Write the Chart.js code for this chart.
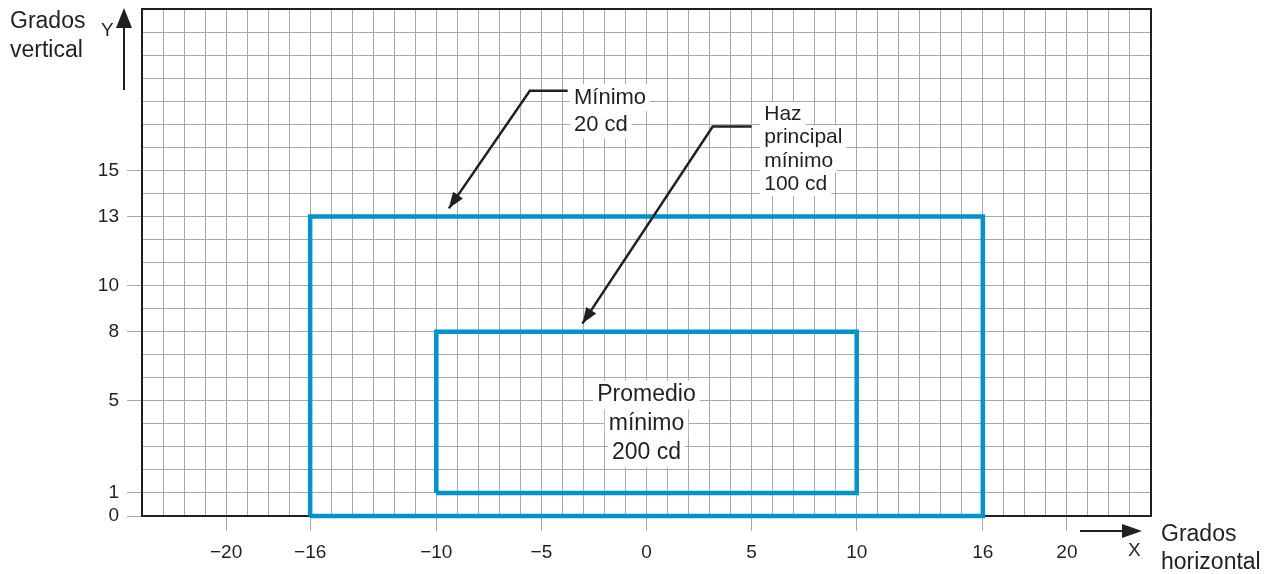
<!DOCTYPE html>
<html>
<head>
<meta charset="utf-8">
<script src="https://cdn.jsdelivr.net/npm/chart.js@4.4.1/dist/chart.umd.min.js"></script>
<style>
  html, body { margin: 0; padding: 0; background: #fff; }
  #wrap { width: 1275px; height: 574px; }
</style>
</head>
<body>
<div id="wrap"><canvas id="chart"></canvas></div>
<script>
// ejes
const xRange = [-24, 24];
const yRange = [0, 22];
const xTickLabels = [-20, -16, -10, -5, 0, 5, 10, 16, 20];
const yTickLabels = [0, 1, 5, 8, 10, 13, 15];

// zonas (rectángulos)
const outerX = [-16, 16, 16, -16, -16];
const outerY = [0, 0, 13, 13, 0];
const innerX = [-10, 10, 10, -10, -10];
const innerY = [1, 1, 8, 8, 1];

// notas
const noteMinimo = ["Mínimo", "20 cd"];
const noteHaz = ["Haz", "principal", "mínimo", "100 cd"];
const notePromedio = ["Promedio", "mínimo", "200 cd"];

const FONT = "'Liberation Sans Narrow', 'Liberation Sans', Arial, sans-serif";
const BLUE = "#0093d2";
const GRID = "#a9a9a9";
const INK = "#231f20";

const minus = (v) => (v < 0 ? "\u2212" + Math.abs(v) : String(v));
const range = (a, b) => Array.from({ length: b - a + 1 }, (_, i) => a + i);

// bordes, notas, flechas y títulos
const decor = {
  id: "decor",
  beforeDatasetsDraw(chart) {
    const { ctx, chartArea: a } = chart;
    ctx.save();
    ctx.strokeStyle = INK;
    ctx.lineWidth = 2;
    ctx.strokeRect(a.left, a.top, a.right - a.left, a.bottom - a.top);
    ctx.restore();
  },
  afterDatasetsDraw(chart) {
    const { ctx, chartArea: a } = chart;
    const xs = chart.scales.x, ys = chart.scales.y;
    const px = (v) => xs.getPixelForValue(v);
    const py = (v) => ys.getPixelForValue(v);

    function block(lines, x, y, size, gap, align) {
      ctx.font = size + "px " + FONT;
      ctx.textBaseline = "middle";
      ctx.textAlign = align;
      lines.forEach((t, i) => {
        const w = ctx.measureText(t).width;
        const cy = py(y) + i * gap;
        const lx = align === "center" ? px(x) - w / 2 : px(x);
        ctx.fillStyle = "#fff";
        ctx.fillRect(lx - 4, cy - gap / 2, w + 8, gap);
      });
      ctx.fillStyle = INK;
      lines.forEach((t, i) => ctx.fillText(t, px(x), py(y) + i * gap));
    }

    function head(x1, y1, x2, y2, len, wid) {
      const ang = Math.atan2(y2 - y1, x2 - x1);
      ctx.beginPath();
      ctx.moveTo(x2, y2);
      ctx.lineTo(x2 - len * Math.cos(ang) + wid * Math.sin(ang), y2 - len * Math.sin(ang) - wid * Math.cos(ang));
      ctx.lineTo(x2 - len * Math.cos(ang) - wid * Math.sin(ang), y2 - len * Math.sin(ang) + wid * Math.cos(ang));
      ctx.closePath();
      ctx.fill();
    }

    function leader(pts) {
      const p = pts.map(([x, y]) => [px(x), py(y)]);
      ctx.beginPath();
      ctx.moveTo(p[0][0], p[0][1]);
      for (let i = 1; i < p.length; i++) ctx.lineTo(p[i][0], p[i][1]);
      ctx.stroke();
      const n = p.length;
      head(p[n - 2][0], p[n - 2][1], p[n - 1][0], p[n - 1][1], 16, 6);
    }

    ctx.save();
    block(noteMinimo, -3.45, 18.15, 22, 27, "left");
    block(noteHaz, 5.6, 17.45, 21, 23.5, "left");
    block(notePromedio, 0, 5.25, 23, 29, "center");

    ctx.strokeStyle = INK;
    ctx.fillStyle = INK;
    ctx.lineWidth = 2.5;
    leader([[-3.75, 18.45], [-5.55, 18.45], [-9.4, 13.35]]);
    leader([[5.0, 16.9], [3.15, 16.9], [-3.05, 8.35]]);

    // flecha Y
    ctx.lineWidth = 2;
    const ax = a.left - 18;
    ctx.beginPath();
    ctx.moveTo(ax, a.top + 81);
    ctx.lineTo(ax, a.top + 12);
    ctx.stroke();
    head(ax, a.top + 81, ax, a.top - 1, 20, 8);

    // flecha X
    const ay = a.bottom + 15;
    ctx.beginPath();
    ctx.moveTo(a.right - 71, ay);
    ctx.lineTo(a.right - 20, ay);
    ctx.stroke();
    head(a.right - 71, ay, a.right - 9, ay, 20, 7);

    // títulos de ejes
    ctx.fillStyle = INK;
    ctx.textBaseline = "middle";
    ctx.textAlign = "left";
    ctx.font = "23px " + FONT;
    ctx.fillText("Grados", 10, 22);
    ctx.fillText("vertical", 10, 51);
    ctx.fillText("Grados", a.right + 10, 535);
    ctx.fillText("horizontal", a.right + 10, 563);
    ctx.font = "19px " + FONT;
    ctx.fillText("Y", 101, 31);
    ctx.fillText("X", a.right - 23, 551);
    ctx.restore();
  }
};

new Chart(document.getElementById("chart"), {
  type: "scatter",
  data: {
    datasets: [
      {
        data: outerX.map((x, i) => ({ x, y: outerY[i] })),
        showLine: true, borderColor: BLUE, borderWidth: 4.5,
        borderJoinStyle: "miter", pointRadius: 0, clip: 6
      },
      {
        data: innerX.map((x, i) => ({ x, y: innerY[i] })),
        showLine: true, borderColor: BLUE, borderWidth: 4.5,
        borderJoinStyle: "miter", pointRadius: 0, clip: 6
      }
    ]
  },
  options: {
    responsive: true,
    maintainAspectRatio: false,
    animation: false,
    layout: { padding: { left: 0, top: 9, right: 124, bottom: 0 } },
    plugins: { legend: { display: false }, tooltip: { enabled: false } },
    scales: {
      x: {
        type: "linear", min: xRange[0], max: xRange[1],
        afterBuildTicks: (s) => { s.ticks = range(xRange[0], xRange[1]).map((value) => ({ value })); },
        afterFit: (s) => { s.height = 58; s.paddingLeft = 0; s.paddingRight = 0; },
        border: { display: false },
        grid: {
          color: GRID, lineWidth: 1, tickLength: 15,
          tickColor: (c) => (xTickLabels.includes(c.tick && c.tick.value) ? GRID : "rgba(0,0,0,0)")
        },
        ticks: {
          autoSkip: false, maxRotation: 0, padding: 10, color: INK,
          font: { family: FONT, size: 19 },
          callback: (v) => (xTickLabels.includes(v) ? minus(v) : "")
        }
      },
      y: {
        type: "linear", min: yRange[0], max: yRange[1],
        afterBuildTicks: (s) => { s.ticks = range(yRange[0], yRange[1]).map((value) => ({ value })); },
        afterFit: (s) => { s.width = 142; s.paddingTop = 0; s.paddingBottom = 0; },
        border: { display: false },
        grid: {
          color: GRID, lineWidth: 1, tickLength: 15,
          tickColor: (c) => (yTickLabels.includes(c.tick && c.tick.value) ? GRID : "rgba(0,0,0,0)")
        },
        ticks: {
          autoSkip: false, padding: 8, color: INK,
          font: { family: FONT, size: 19 },
          callback: (v) => (yTickLabels.includes(v) ? minus(v) : "")
        }
      }
    }
  },
  plugins: [decor]
});
</script>
</body>
</html>
